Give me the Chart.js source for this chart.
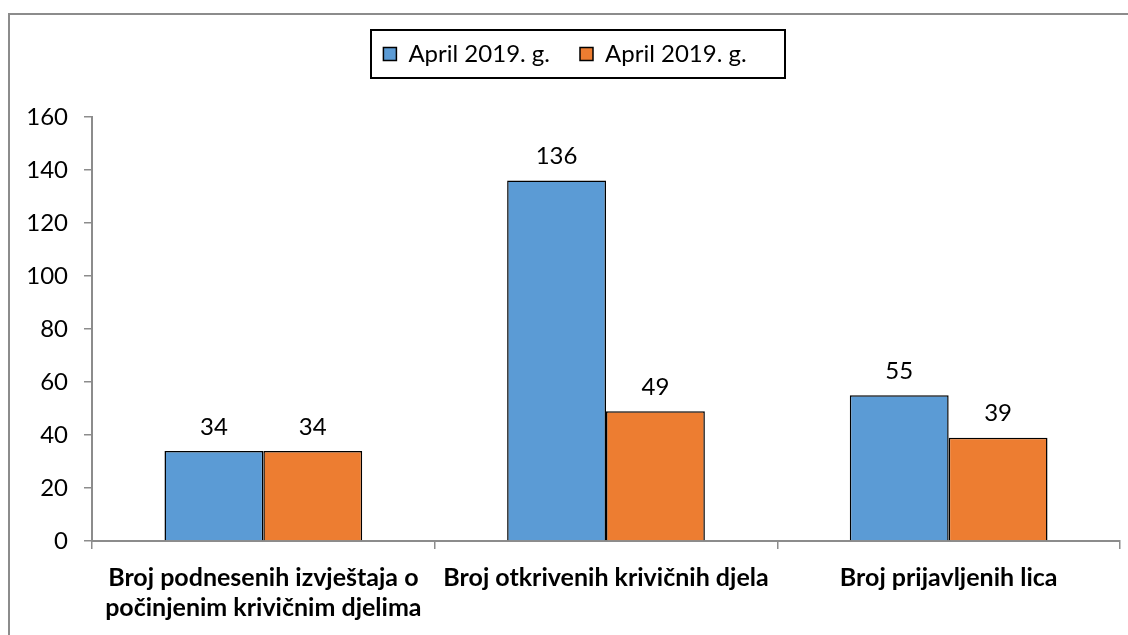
<!DOCTYPE html>
<html>
<head>
<meta charset="utf-8">
<script src="https://cdn.jsdelivr.net/npm/chart.js@4.4.0/dist/chart.umd.min.js"></script>
<style>
  html, body { margin: 0; padding: 0; background: #fff; }
  #wrap { position: relative; width: 1128px; height: 635px; }
</style>
</head>
<body>
<div id="wrap"><canvas id="myChart" width="1128" height="635"></canvas></div>
<script>
const categories = [
    ['Broj podnesenih izvještaja o', 'počinjenim krivičnim djelima'],
    'Broj otkrivenih krivičnih djela',
    'Broj prijavljenih lica'
];
const seriesNames = ['April 2019. g.', 'April 2019. g.'];
const series1 = [34, 136, 55];
const series2 = [34, 49, 39];
const yTicks = [0, 20, 40, 60, 80, 100, 120, 140, 160];

const FONT = 'Lato, "Open Sans", sans-serif';
const LEGEND_HEIGHT = 105;

// frame, legend box, value labels, fixed legend height
const extras = {
    id: 'extras',
    beforeUpdate(chart) {
        const lg = chart.legend;
        if (lg && !lg._fixed) {
            const fit = lg.fit.bind(lg);
            lg.fit = function () {
                fit();
                this.height = LEGEND_HEIGHT;
            };
            lg._fixed = true;
        }
    },
    beforeDraw(chart) {
        const c = chart.ctx;
        c.save();
        c.strokeStyle = '#8c8c8c';
        c.lineWidth = 2;
        c.beginPath();
        c.moveTo(9, 640);
        c.lineTo(9, 14);
        c.lineTo(1130, 14);
        c.stroke();
        c.restore();
    },
    afterDraw(chart) {
        const c = chart.ctx;
        c.save();
        c.strokeStyle = '#000';
        c.lineWidth = 2;
        c.strokeRect(371, 30, 414, 48);

        c.fillStyle = '#000';
        c.font = '24px ' + FONT;
        c.textAlign = 'center';
        c.textBaseline = 'middle';
        chart.data.datasets.forEach((ds, i) => {
            chart.getDatasetMeta(i).data.forEach((bar, j) => {
                c.fillText(String(ds.data[j]), bar.x, bar.y - 24);
            });
        });
        c.restore();
    }
};

const ctx = document.getElementById('myChart').getContext('2d');
const myChart = new Chart(ctx, {
    type: 'bar',
    data: {
        labels: categories,
        datasets: [
            {
                label: seriesNames[0],
                data: series1,
                backgroundColor: '#5B9BD5',
                borderColor: '#000',
                borderWidth: 1.5,
            },
            {
                label: seriesNames[1],
                data: series2,
                backgroundColor: '#ED7D31',
                borderColor: '#000',
                borderWidth: 1.5,
            },
        ],
    },
    options: {
        responsive: false,
        animation: false,
        layout: { padding: { left: 10, right: 8, top: 12, bottom: 10 } },
        datasets: {
            bar: { categoryPercentage: 0.577, barPercentage: 1.0 }
        },
        plugins: {
            tooltip: { enabled: false },
            legend: {
                position: 'top',
                labels: {
                    color: '#000',
                    font: { family: FONT, size: 24 },
                    boxWidth: 13,
                    boxHeight: 13,
                    padding: 30,
                    useBorderRadius: false,
                },
            },
        },
        scales: {
            x: {
                grid: {
                    drawOnChartArea: false,
                    color: '#8c8c8c',
                    tickLength: 8,
                    lineWidth: 1.5,
                },
                border: { color: '#8c8c8c', width: 2 },
                ticks: {
                    color: '#000',
                    font: { family: FONT, size: 25, weight: 'bold', lineHeight: 1.2 },
                    maxRotation: 0,
                    autoSkip: false,
                    padding: 14,
                },
                afterFit(scale) { scale.height = 84; },
            },
            y: {
                min: 0,
                max: 160,
                afterBuildTicks(scale) { scale.ticks = yTicks.map(v => ({ value: v })); },
                grid: {
                    drawOnChartArea: false,
                    color: '#8c8c8c',
                    tickLength: 8,
                    lineWidth: 1.5,
                },
                border: { color: '#8c8c8c', width: 2 },
                ticks: {
                    color: '#000',
                    font: { family: FONT, size: 24 },
                    padding: 16,
                },
                afterFit(scale) { scale.width = 82; },
            },
        },
    },
    plugins: [extras],
});
</script>
</body>
</html>
